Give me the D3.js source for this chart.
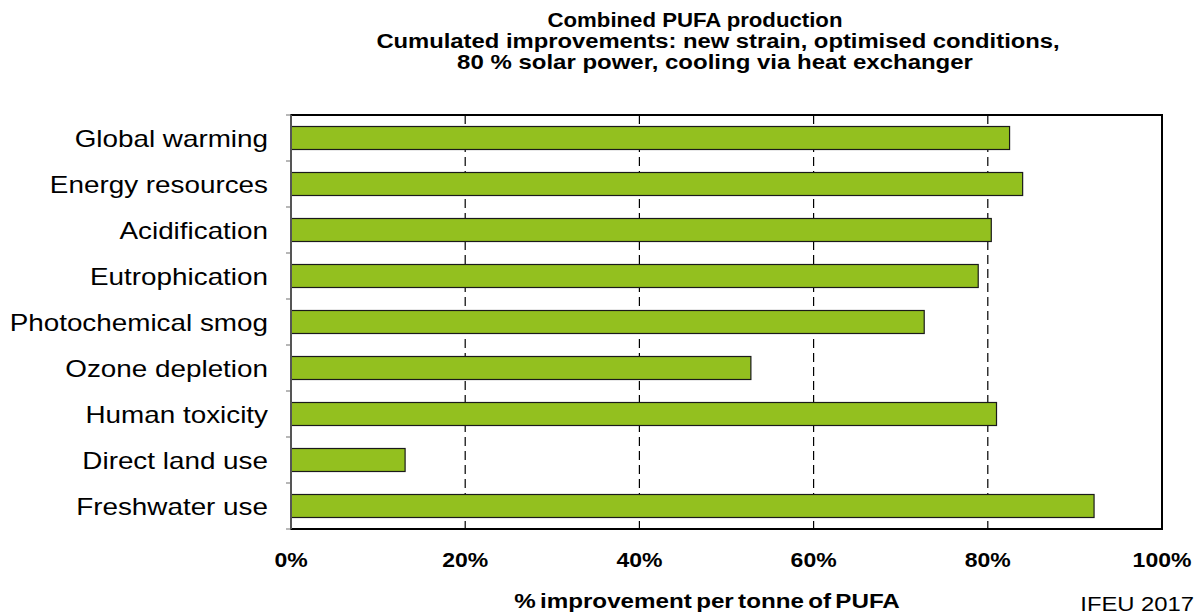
<!DOCTYPE html>
<html><head><meta charset="utf-8">
<script src="https://cdn.jsdelivr.net/npm/d3@7"></script>
<style>
body{margin:0;background:#fff;}
text{font-family:"Liberation Sans",Arial,sans-serif;}
</style></head>
<body><svg id="chart" width="1197" height="615"></svg>
<script>
const categories = ["Global warming","Energy resources","Acidification","Eutrophication","Photochemical smog","Ozone depletion","Human toxicity","Direct land use","Freshwater use"];
const values = [82.5, 84.0, 80.4, 78.9, 72.7, 52.8, 81.0, 13.1, 92.2];
const xTicks = [0, 20, 40, 60, 80, 100];
const titleLines = ["Combined PUFA production","Cumulated improvements: new strain, optimised conditions,","80 % solar power, cooling via heat exchanger"];
const xLabel = "% improvement per tonne of PUFA";
const credit = "IFEU 2017";

const svg = d3.select("#chart");
const L = 291, R = 1162, T = 115, B = 529;
const x = d3.scaleLinear().domain([0,100]).range([L,R]);
const y = d3.scaleBand().domain(categories).range([T,B]).paddingInner(0.5).paddingOuter(0.25);
const tf = (px,py,sx)=>`translate(${px},${py}) scale(${sx},1)`;

// gridlines
svg.append("g").selectAll("line").data(xTicks.filter(d=>d>0&&d<100)).join("line")
  .attr("x1",d=>x(d)).attr("x2",d=>x(d)).attr("y1",T).attr("y2",B)
  .attr("stroke","#000").attr("stroke-width",1.2).attr("stroke-dasharray","9,5");

// bars
svg.append("g").selectAll("rect").data(categories).join("rect")
  .attr("x",x(0)).attr("y",d=>y(d))
  .attr("width",(d,i)=>x(values[i])-x(0)).attr("height",y.bandwidth())
  .attr("fill","#93C01F").attr("stroke","#1a1a1a").attr("stroke-width",1.2);

// frame
svg.append("rect").attr("x",L).attr("y",T).attr("width",R-L).attr("height",B-T)
  .attr("fill","none").attr("stroke","#000").attr("stroke-width",2);

// left axis ticks (band boundaries)
const bounds = d3.range(categories.length+1).map(i=>T+i*(B-T)/categories.length);
svg.append("g").selectAll("line").data(bounds).join("line")
  .attr("x1",L-5).attr("x2",L).attr("y1",d=>d).attr("y2",d=>d)
  .attr("stroke","#888").attr("stroke-width",1.2);
svg.append("line").attr("x1",L).attr("x2",L).attr("y1",T).attr("y2",B).attr("stroke","#555").attr("stroke-width",2);

// category labels
svg.append("g").selectAll("text").data(categories).join("text")
  .attr("transform",d=>tf(268, y(d)+y.bandwidth()/2, 1.16)).attr("dy","0.36em")
  .attr("text-anchor","end").attr("font-size",24).attr("fill","#000").text(d=>d);

// x tick labels
svg.append("g").selectAll("text").data(xTicks).join("text")
  .attr("transform",d=>tf(x(d),567,1.15)).attr("text-anchor","middle")
  .attr("font-size",20).attr("font-weight","bold").text(d=>d+"%");

// x label
svg.append("text").attr("transform",tf(707,608,1.21)).attr("text-anchor","middle")
  .attr("font-size",20).attr("font-weight","bold").attr("word-spacing","-2").text(xLabel);

// credit
svg.append("text").attr("transform",tf(1194,611,1.19)).attr("text-anchor","end")
  .attr("font-size",20).text(credit);

// title
const titleX = [695, 718, 715];
const titleSX = [1.11, 1.19, 1.2];
svg.append("g").selectAll("text").data(titleLines).join("text")
  .attr("transform",(d,i)=>tf(titleX[i], 27+i*21, titleSX[i])).attr("text-anchor","middle")
  .attr("font-size",20).attr("font-weight","bold").text(d=>d);
</script></body></html>
